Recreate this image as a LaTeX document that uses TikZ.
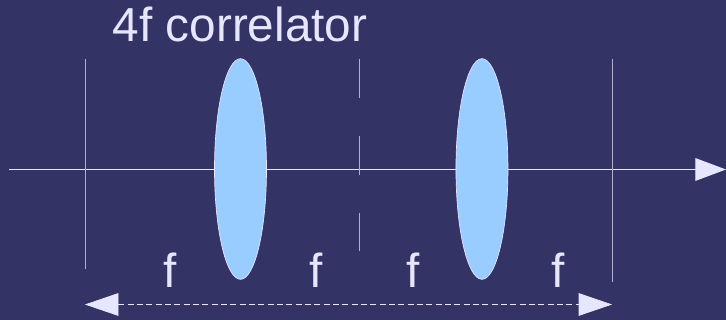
\documentclass[tikz,border=0pt]{standalone}
\usepackage{fontspec}
\setmainfont{Liberation Sans}
\usepackage{tikz}
\usetikzlibrary{positioning,arrows.meta,shapes.geometric}
\definecolor{slidebg}{HTML}{333366}
\definecolor{lenscol}{HTML}{99CCFF}
\definecolor{linecol}{HTML}{E6E6FF}

\begin{document}
\begin{tikzpicture}[
      x=0.75pt, y=-0.75pt,
      every node/.style={font=\fontsize{35.8pt}{40pt}\selectfont, text=linecol},
      lens/.style={draw=linecol, line width=0.5pt, ellipse, fill=lenscol, inner sep=0pt, outer sep=0pt, minimum width=39pt, minimum height=165.5pt},
      plane/.style={draw=linecol!70!slidebg, line width=0.75pt},
      axisline/.style={draw=linecol, line width=0.75pt, -{Triangle[length=23pt, width=17pt]}},
      spanline/.style={draw=linecol, line width=0.5pt, dash pattern=on 4.5pt off 2.5pt, {Triangle[length=25pt, width=17pt]}-{Triangle[length=25pt, width=17pt]}},
      flabel/.style={anchor=base, inner sep=0pt},
    ]
    \fill[slidebg] (0,0) rectangle (726,320);
    \useasboundingbox (0,0) rectangle (726,320);

    \coordinate (axisL) at (9,169.5);
    \coordinate (axisR) at (726,169.5);
    \coordinate (planeAt) at (85,59);
    \coordinate (planeAb) at (85,269);
    \coordinate (planeBt) at (359.5,59);
    \coordinate (planeBb) at (359.5,251.5);
    \coordinate (planeCt) at (612,59);
    \coordinate (planeCb) at (612,282);
    \coordinate (spanL) at (85,304.5);
    \coordinate (spanR) at (612,304.5);

    \draw[axisline] (axisL) -- (axisR);
    \draw[plane] (planeAt) -- (planeAb);
    \draw[plane, dash pattern=on 28.9pt off 28.9pt] (planeBt) -- (planeBb);
    \draw[plane] (planeCt) -- (planeCb);

    \node[lens] (lensa) at (240.5,169) {};
    \node[lens, right=142.1pt of lensa] (lensb) {};

    \draw[spanline] (spanL) -- (spanR);

    \node[anchor=base west, inner sep=0pt] (title) at (112.5,42) {4f correlator};
    \node[flabel] (fa) at (170,288) {f};
    \node[flabel, right=109.5pt of fa.base, anchor=base] (fb) {f};
    \node[flabel] (fc) at (413,288) {f};
    \node[flabel, right=108.75pt of fc.base, anchor=base] (fd) {f};
  \end{tikzpicture}
\end{document}
